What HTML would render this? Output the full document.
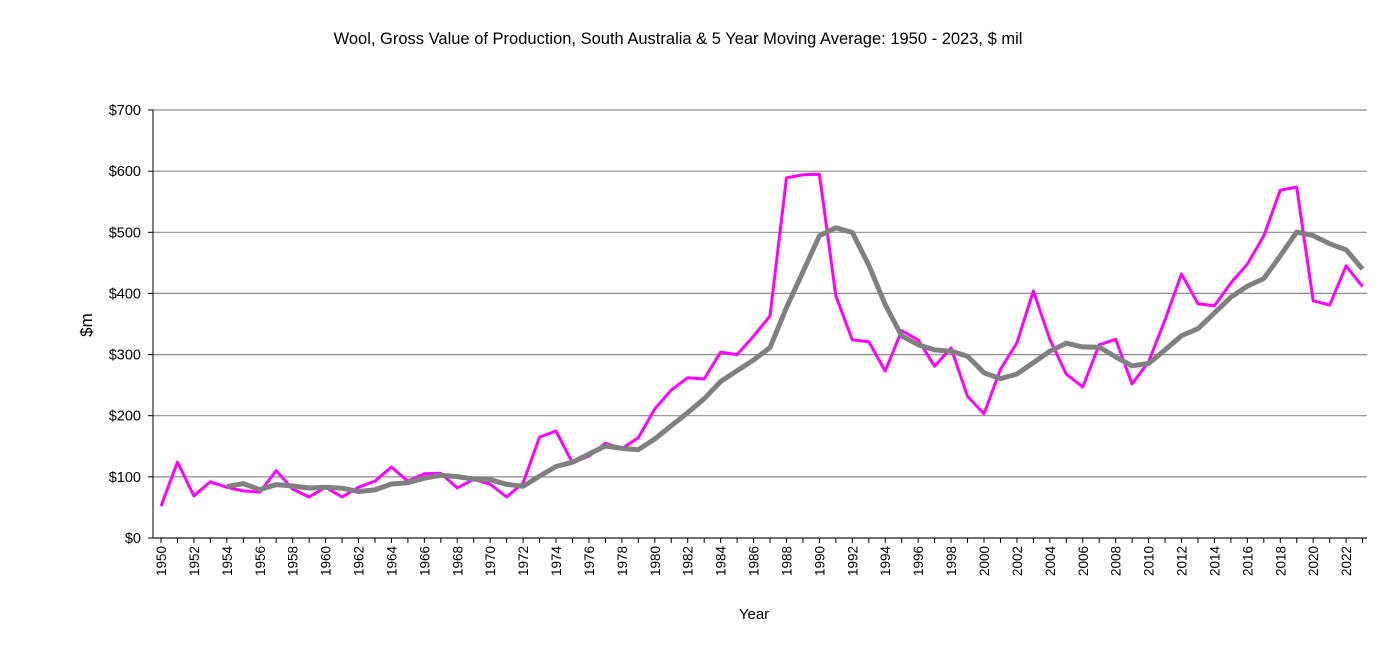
<!DOCTYPE html>
<html><head><meta charset="utf-8"><style>
html,body{margin:0;padding:0;background:#fff;}
svg{display:block;font-family:"Liberation Sans",Arial,sans-serif;}
</style></head><body>
<svg id="s" width="1397" height="666" xmlns="http://www.w3.org/2000/svg">
<text x="678" y="44" font-size="16.5" text-anchor="middle" fill="#000">Wool, Gross Value of Production, South Australia &amp; 5 Year Moving Average: 1950 - 2023, $ mil</text>
<text x="754" y="619" font-size="15" text-anchor="middle" fill="#000">Year</text>
<text transform="translate(92,325) rotate(-90)" font-size="17" text-anchor="middle" fill="#000">$m</text>
<g id="g"></g>
</svg>
<script>
var d=[52,124,69,92,83,77,75,110,80,67,83,67,83,93,116,93,105,106,82,96,88,67,90,165,175,123,134,155,146,164,211,242,262,260,304,300,330,363,589,594,595,396,324,321,273,339,324,281,311,232,203,276,319,404,325,268,247,316,325,252,288,357,432,383,380,417,448,494,569,574,388,381,445,411];
var L=153,R=1367,Y0=538,k=0.6114;
function X(i){return 161+i*16.46;}
function Yv(v){return Y0-v*k;}
var h='';
for(var v=0;v<=700;v+=100){var y=Yv(v).toFixed(1);
 h+='<line x1="'+L+'" x2="'+R+'" y1="'+y+'" y2="'+y+'" stroke="#8c8c8c" stroke-width="1.2"/>';
 h+='<line x1="'+(L-5)+'" x2="'+L+'" y1="'+y+'" y2="'+y+'" stroke="#000"/>';
 h+='<text x="'+(L-12)+'" y="'+(+y+5)+'" font-size="14.5" text-anchor="end">$'+v+'</text>';}
h+='<line x1="'+L+'" x2="'+L+'" y1="'+Yv(700)+'" y2="'+Y0+'" stroke="#000"/>';
h+='<line x1="'+L+'" x2="'+R+'" y1="'+Y0+'" y2="'+Y0+'" stroke="#000"/>';
for(var i=0;i<d.length;i++){var x=X(i);
 h+='<line x1="'+x+'" x2="'+x+'" y1="'+Y0+'" y2="'+(Y0+5)+'" stroke="#000"/>';
 if(i%2==0)h+='<text transform="translate('+(x+5)+','+(Y0+8)+') rotate(-90)" font-size="13.5" text-anchor="end">'+(1950+i)+'</text>';}
var p='',m='';
for(var i=0;i<d.length;i++){p+=(i?'L':'M')+X(i).toFixed(1)+','+Yv(d[i]).toFixed(1);
 if(i>=4){var s=0;for(var j=i-4;j<=i;j++)s+=d[j];m+=(i>4?'L':'M')+X(i).toFixed(1)+','+Yv(s/5).toFixed(1);}}
h+='<path d="'+p+'" fill="none" stroke="#ff00ff" stroke-width="3" stroke-linejoin="round"/>';
h+='<path d="'+m+'" fill="none" stroke="#808080" stroke-width="5" stroke-linejoin="round"/>';
document.getElementById('g').innerHTML=h;
</script>
</body></html>
